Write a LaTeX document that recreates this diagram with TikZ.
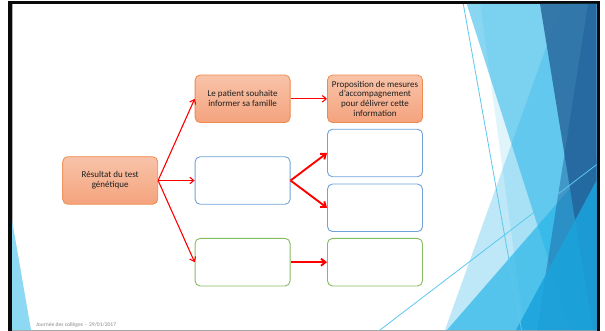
\documentclass[tikz,border=0pt]{standalone}
\usepackage{fontspec}
\setmainfont{Carlito}
\usetikzlibrary{arrows.meta}

\definecolor{frameblack}{HTML}{0A0A0A}
\definecolor{facetlight}{HTML}{29B6E8}
\definecolor{facetdark}{HTML}{2D6FA3}
\definecolor{facetnavy}{HTML}{1A5C9A}
\definecolor{facetbright}{HTML}{1AA3DC}
\definecolor{facetline}{HTML}{5CC8EE}
\definecolor{leftwedge}{HTML}{8DD8F3}
\definecolor{orangeedge}{HTML}{F08A4B}
\definecolor{orangetop}{HTML}{F8C3A9}
\definecolor{orangebot}{HTML}{F4A37D}
\definecolor{blueedge}{HTML}{6FA3DA}
\definecolor{greenedge}{HTML}{86BC60}
\definecolor{textdark}{HTML}{1E1E1E}
\definecolor{footgrey}{HTML}{8A8A8A}

\tikzset{
  cardbase/.style={rounded corners=5pt, minimum width=95pt, minimum height=47.5pt,
    align=center, inner sep=1pt, font=\fontsize{9}{9.8}\selectfont, text=textdark},
  orangecard/.style={cardbase, draw=orangeedge, line width=0.8pt,
    top color=orangetop, bottom color=orangebot},
  bluecard/.style={cardbase, draw=blueedge, line width=0.9pt, fill=white},
  greencard/.style={cardbase, draw=greenedge, line width=0.9pt, fill=white},
  flowarrow/.style={draw=red, line width=1.1pt, -{Straight Barb[length=4pt,width=6.5pt]}},
  heavyarrow/.style={draw=red, line width=1.9pt, -{Straight Barb[length=4.5pt,width=7pt]}},
}

\begin{document}
\begin{tikzpicture}[x=1pt,y=-1pt]
  \useasboundingbox (0,0) rectangle (605,331);

  % slide frame and white page
  \fill[white] (0,0) rectangle (605,331);
  \fill[frameblack] (8,1.3) rectangle (599.5,331);
  \fill[white] (12,4) rectangle (596.5,330);
  \draw[gray!60, line width=0.6pt] (12.4,4) -- (12.4,330);
  \draw[gray!70, line width=0.8pt] (12,330.5) -- (596.5,330.5);

  % facet decoration, lower left
  \fill[leftwedge] (12,220) -- (31,330) -- (12,330) -- cycle;

  % facet decoration, right side
  \begin{scope}
    \clip (12,4) rectangle (596.5,330);
    \fill[facetlight, opacity=0.15] (480.2,4) -- (600,4) -- (600,330) -- (524.5,330) -- cycle;
    \fill[facetlight, opacity=0.55] (466.7,4) -- (600,4) -- (600,330) -- (571,330) -- cycle;
    \fill[facetlight, opacity=0.3]  (561.7,4) -- (600,4) -- (600,330) -- (445,330) -- cycle;
    \fill[facetlight, opacity=0.7]  (447,330) -- (600,154) -- (600,330) -- cycle;
    \fill[facetdark, opacity=0.9]   (540,4) -- (600,4) -- (600,330) -- (593,330) -- cycle;
    \fill[facetnavy, opacity=0.45]  (588,4) -- (600,4) -- (600,330) -- (537,330) -- cycle;
    \fill[facetbright, opacity=0.85] (516,330) -- (600,174) -- (600,330) -- cycle;
    \draw[facetline, line width=0.8pt] (463.3,4) -- (521.5,330);
    \draw[facetline, line width=0.8pt] (380,330) -- (600,162);
  \end{scope}

  % footer
  \node[font=\fontsize{5.6}{6.5}\selectfont, text=footgrey, anchor=west, inner sep=0pt]
    (footer) at (36,325) {Journée des collèges \,-\, 29/01/2017};

  % flow chart
  \node[orangecard] (res)  at (110.2,180.5) {Résultat du test\\génétique};
  \node[orangecard] (pat)  at (242.6,98.8)  {Le patient souhaite\\informer sa famille};
  \node[orangecard] (prop) at (375,98.8)    {Proposition de mesures\\d’accompagnement\\pour délivrer cette\\information};
  \node[bluecard]   (mid)  at (242.6,180.5) {};
  \node[bluecard]   (rup)  at (375,153)     {};
  \node[bluecard]   (rlo)  at (375,207.8)   {};
  \node[greencard]  (gl)   at (242.6,262.2) {};
  \node[greencard]  (gr)   at (375,262.2)   {};

  \draw[flowarrow] (res.east) -- (pat.west);
  \draw[flowarrow] (res.east) -- (mid.west);
  \draw[flowarrow] (res.east) -- (gl.west);
  \draw[flowarrow] (pat.east) -- (prop.west);
  \draw[heavyarrow] (mid.east) -- (rup.west);
  \draw[heavyarrow] (mid.east) -- (rlo.west);
  \draw[heavyarrow] (gl.east) -- (gr.west);
\end{tikzpicture}
\end{document}
